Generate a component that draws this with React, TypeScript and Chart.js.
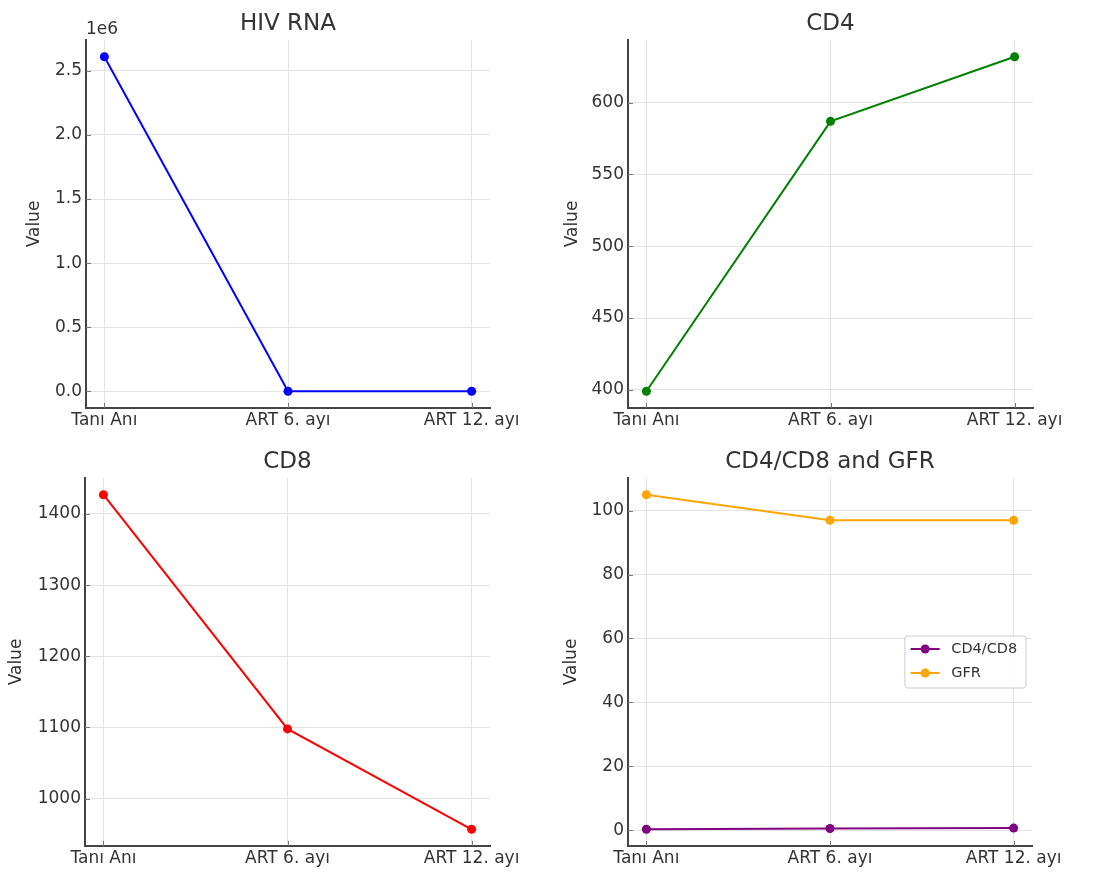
import React, { useEffect, useRef } from 'react';
import { Chart, registerables } from 'chart.js';

Chart.register(...registerables);

// ---------- data ----------
const categories = ['Tanı Anı', 'ART 6. ayı', 'ART 12. ayı'];
const hivRna = [2610000, 40, 20];
const cd4 = [399, 587, 632];
const cd8 = [1427, 1098, 957];
const cd4cd8Ratio = [0.28, 0.53, 0.66];
const gfr = [105, 97, 97];

const hivTickStep = 500000;
const cd4TickStep = 50;
const cd8TickStep = 100;
const ratioTickStep = 20;

// ---------- styles ----------
const FONT = "'DejaVu Sans', sans-serif";
const TEXT = '#333333';
const GRID = '#e3e3e3';
const SPINE = '#444444';
const TICK = '#777777';
const X_AXIS_H = 30;

Chart.defaults.font.family = FONT;
Chart.defaults.color = TEXT;

type Series = { label: string; values: number[]; color: string };
type Box = { x: number; y: number; w: number; h: number };
type Area = { left: number; top: number; right: number; bottom: number };
type Panel = {
  key: string;
  title: string;
  series: Series[];
  step: number;
  format: (v: number) => string;
  offsetText?: string;
  legend?: boolean;
  box: Box;
  area: Area;
  yTitleX: number;
};

const panels: Panel[] = [
  {
    key: 'hiv',
    title: 'HIV RNA',
    series: [{ label: 'HIV RNA', values: hivRna, color: '#0000ff' }],
    step: hivTickStep,
    format: (v) => (v / 1e6).toFixed(1),
    offsetText: '1e6',
    box: { x: 0, y: 0, w: 547, h: 438 },
    area: { left: 86, top: 40, right: 490, bottom: 408 },
    yTitleX: 35,
  },
  {
    key: 'cd4',
    title: 'CD4',
    series: [{ label: 'CD4', values: cd4, color: '#008000' }],
    step: cd4TickStep,
    format: (v) => String(Math.round(v)),
    box: { x: 547, y: 0, w: 548, h: 438 },
    area: { left: 628, top: 40, right: 1033, bottom: 408 },
    yTitleX: 26,
  },
  {
    key: 'cd8',
    title: 'CD8',
    series: [{ label: 'CD8', values: cd8, color: '#ff0000' }],
    step: cd8TickStep,
    format: (v) => String(Math.round(v)),
    box: { x: 0, y: 438, w: 547, h: 438 },
    area: { left: 85, top: 478, right: 490, bottom: 846 },
    yTitleX: 17,
  },
  {
    key: 'ratio',
    title: 'CD4/CD8 and GFR',
    series: [
      { label: 'CD4/CD8', values: cd4cd8Ratio, color: '#800080' },
      { label: 'GFR', values: gfr, color: '#ffa500' },
    ],
    step: ratioTickStep,
    format: (v) => String(Math.round(v)),
    legend: true,
    box: { x: 547, y: 438, w: 548, h: 438 },
    area: { left: 628, top: 478, right: 1032, bottom: 846 },
    yTitleX: 25,
  },
];

function makeDecor(p: Panel) {
  return {
    id: 'decor',
    afterDatasetsDraw(chart: any) {
      // inward tick marks
      const { ctx, chartArea: a, scales } = chart;
      ctx.save();
      ctx.strokeStyle = TICK;
      ctx.lineWidth = 1;
      ctx.beginPath();
      scales.y.ticks.forEach((t: any) => {
        const y = Math.round(scales.y.getPixelForValue(t.value)) + 0.5;
        ctx.moveTo(a.left, y);
        ctx.lineTo(a.left + 5, y);
      });
      scales.x.ticks.forEach((t: any) => {
        const x = Math.round(scales.x.getPixelForValue(t.value)) + 0.5;
        ctx.moveTo(x, a.bottom);
        ctx.lineTo(x, a.bottom - 5);
      });
      ctx.stroke();
      ctx.restore();
    },
    afterDraw(chart: any) {
      const { ctx, chartArea: a } = chart;
      ctx.save();
      ctx.fillStyle = TEXT;
      ctx.font = `23px ${FONT}`;
      ctx.textAlign = 'center';
      ctx.textBaseline = 'alphabetic';
      ctx.fillText(p.title, (a.left + a.right) / 2, a.top - 10);
      if (p.offsetText) {
        ctx.font = `17px ${FONT}`;
        ctx.textAlign = 'left';
        ctx.fillText(p.offsetText, a.left, a.top - 6);
      }
      if (p.legend) {
        const fs = 14.5;
        ctx.font = `${fs}px ${FONT}`;
        const ds = chart.data.datasets;
        const tw = Math.max(...ds.map((d: any) => ctx.measureText(d.label).width));
        const pad = 0.4 * fs;
        const handle = 2 * fs;
        const hpad = 0.8 * fs;
        const rowH = 24;
        const w = pad + handle + hpad + tw + pad + 3;
        const h = 52;
        const right = a.right - 6;
        const left = right - w;
        const top = (a.top + a.bottom) / 2 - h / 2;
        ctx.beginPath();
        if (ctx.roundRect) ctx.roundRect(left, top, w, h, 3);
        else ctx.rect(left, top, w, h);
        ctx.fillStyle = 'rgba(255,255,255,0.85)';
        ctx.fill();
        ctx.strokeStyle = '#cccccc';
        ctx.lineWidth = 1;
        ctx.stroke();
        ds.forEach((d: any, i: number) => {
          const cy = top + 13 + i * rowH;
          const x0 = left + pad;
          ctx.strokeStyle = d.borderColor;
          ctx.lineWidth = 2;
          ctx.beginPath();
          ctx.moveTo(x0, cy);
          ctx.lineTo(x0 + handle, cy);
          ctx.stroke();
          ctx.fillStyle = d.borderColor;
          ctx.beginPath();
          ctx.arc(x0 + handle / 2, cy, 4.5, 0, Math.PI * 2);
          ctx.fill();
          ctx.fillStyle = TEXT;
          ctx.textAlign = 'left';
          ctx.textBaseline = 'middle';
          ctx.fillText(d.label, x0 + handle + hpad, cy);
        });
      }
      ctx.restore();
    },
  };
}

function PanelChart({ panel }: { panel: Panel }) {
  const ref = useRef<HTMLCanvasElement>(null);
  useEffect(() => {
    const p = panel;
    const all = p.series.flatMap((s) => s.values);
    const dmin = Math.min(...all);
    const dmax = Math.max(...all);
    const span = dmax - dmin;
    const yMin = dmin - 0.05 * span;
    const yMax = dmax + 0.05 * span;
    const nCat = categories.length;
    const xMargin = 0.05 * (nCat - 1);

    const localLeft = p.area.left - p.box.x;
    const localTop = p.area.top - p.box.y;
    const localRight = p.area.right - p.box.x;
    const localBottom = p.area.bottom - p.box.y;

    const yTicks: { value: number }[] = [];
    for (let k = Math.ceil(yMin / p.step); k * p.step <= yMax; k++) {
      yTicks.push({ value: k * p.step });
    }

    const chart = new Chart(ref.current!, {
      type: 'line',
      data: {
        datasets: p.series.map((s) => ({
          label: s.label,
          data: s.values.map((v, i) => ({ x: i, y: v })),
          borderColor: s.color,
          backgroundColor: s.color,
          pointBackgroundColor: s.color,
          pointBorderColor: s.color,
          borderWidth: 2,
          pointRadius: 4.5,
          pointBorderWidth: 0,
          tension: 0,
          fill: false,
        })),
      },
      options: {
        animation: false,
        responsive: false,
        maintainAspectRatio: false,
        layout: {
          padding: {
            left: 0,
            top: localTop,
            right: p.box.w - localRight,
            bottom: p.box.h - localBottom - X_AXIS_H,
          },
        },
        plugins: {
          legend: { display: false },
          title: { display: false },
          tooltip: { enabled: false },
        },
        scales: {
          x: {
            type: 'linear',
            min: -xMargin,
            max: nCat - 1 + xMargin,
            afterBuildTicks: (s: any) => {
              s.ticks = categories.map((_, i) => ({ value: i }));
            },
            afterFit: (s: any) => {
              s.height = X_AXIS_H;
            },
            ticks: {
              callback: (v: any) => categories[v as number] ?? '',
              maxRotation: 0,
              autoSkip: false,
              padding: 2,
              font: { size: 17 },
              color: TEXT,
            },
            grid: { color: GRID, drawTicks: false, lineWidth: 1 },
            border: { display: true, color: SPINE, width: 2 },
          },
          y: {
            type: 'linear',
            min: yMin,
            max: yMax,
            afterBuildTicks: (s: any) => {
              s.ticks = yTicks.map((t) => ({ value: t.value }));
            },
            afterFit: (s: any) => {
              s.width = localLeft;
            },
            ticks: {
              callback: (v: any) => p.format(Number(v)),
              padding: 4,
              font: { size: 17 },
              color: TEXT,
            },
            title: {
              display: true,
              text: 'Value',
              font: { size: 17 },
              color: TEXT,
              padding: { top: p.yTitleX - 10.2, bottom: 0 },
            },
            grid: { color: GRID, drawTicks: false, lineWidth: 1 },
            border: { display: true, color: SPINE, width: 2 },
          },
        },
      } as any,
      plugins: [makeDecor(p)],
    });
    return () => chart.destroy();
  }, [panel]);

  return (
    <canvas
      ref={ref}
      width={panel.box.w}
      height={panel.box.h}
      style={{
        position: 'absolute',
        left: panel.box.x,
        top: panel.box.y,
        width: panel.box.w,
        height: panel.box.h,
      }}
    />
  );
}

export default function App() {
  return (
    <div
      style={{
        position: 'absolute',
        left: 0,
        top: 0,
        width: 1095,
        height: 876,
        background: '#ffffff',
        overflow: 'hidden',
      }}
    >
      {panels.map((p) => (
        <PanelChart key={p.key} panel={p} />
      ))}
    </div>
  );
}
